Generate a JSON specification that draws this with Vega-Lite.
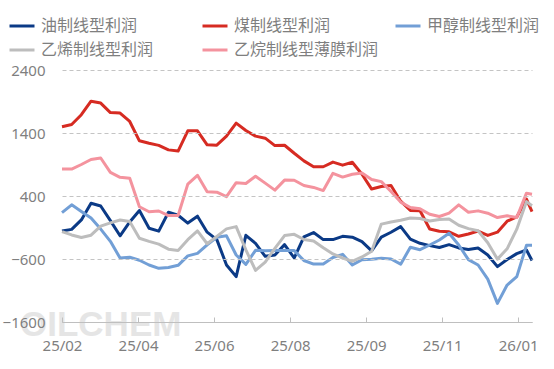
{
  "$schema": "https://vega.github.io/schema/vega-lite/v6.json",
  "width": 470,
  "height": 252,
  "autosize": {"type": "none"},
  "padding": {"left": 62, "top": 70, "right": 22, "bottom": 47},
  "background": "white",
  "config": {"view": {"stroke": null}, "font": "Noto Sans CJK SC"},
  "data": {
    "values": [
      {"d": "2025-02-20", "油制线型利润": -155, "煤制线型利润": 1500, "甲醇制线型利润": 135, "乙烯制线型利润": -165, "乙烷制线型薄膜利润": 827},
      {"d": "2025-02-27", "油制线型利润": -130, "煤制线型利润": 1535, "甲醇制线型利润": 260, "乙烯制线型利润": -218, "乙烷制线型薄膜利润": 827},
      {"d": "2025-03-06", "油制线型利润": 20, "煤制线型利润": 1690, "甲醇制线型利润": 155, "乙烯制线型利润": -258, "乙烷制线型薄膜利润": 900},
      {"d": "2025-03-13", "油制线型利润": 285, "煤制线型利润": 1905, "甲醇制线型利润": 50, "乙烯制线型利润": -222, "乙烷制线型薄膜利润": 980},
      {"d": "2025-03-20", "油制线型利润": 242, "煤制线型利润": 1875, "甲醇制线型利润": -125, "乙烯制线型利润": -78, "乙烷制线型薄膜利润": 1003},
      {"d": "2025-03-27", "油制线型利润": 10, "煤制线型利润": 1724, "甲醇制线型利润": -320, "乙烯制线型利润": -26, "乙烷制线型薄膜利润": 775},
      {"d": "2025-04-03", "油制线型利润": -232, "煤制线型利润": 1716, "甲醇制线型利润": -585, "乙烯制线型利润": 20, "乙烷制线型薄膜利润": 697},
      {"d": "2025-04-10", "油制线型利润": -12, "煤制线型利润": 1583, "甲醇制线型利润": -573, "乙烯制线型利润": -6, "乙烷制线型薄膜利润": 681},
      {"d": "2025-04-17", "油制线型利润": 170, "煤制线型利润": 1276, "甲醇制线型利润": -620, "乙烯制线型利润": -271, "乙烷制线型薄膜利润": 230},
      {"d": "2025-04-24", "油制线型利润": -112, "煤制线型利润": 1238, "甲醇制线型利润": -695, "乙烯制线型利润": -320, "乙烷制线型薄膜利润": 150},
      {"d": "2025-05-01", "油制线型利润": -158, "煤制线型利润": 1204, "甲醇制线型利润": -748, "乙烯制线型利润": -364, "乙烷制线型薄膜利润": 162},
      {"d": "2025-05-08", "油制线型利润": 142, "煤制线型利润": 1132, "甲醇制线型利润": -734, "乙烯制线型利润": -444, "乙烷制线型薄膜利润": 90},
      {"d": "2025-05-15", "油制线型利润": 95, "煤制线型利润": 1113, "甲醇制线型利润": -700, "乙烯制线型利润": -464, "乙烷制线型薄膜利润": 90},
      {"d": "2025-05-22", "油制线型利润": -30, "煤制线型利润": 1435, "甲醇制线型利润": -551, "乙烯制线型利润": -294, "乙烷制线型薄膜利润": 588},
      {"d": "2025-05-29", "油制线型利润": 80, "煤制线型利润": 1435, "甲醇制线型利润": -510, "乙烯制线型利润": -155, "乙烷制线型薄膜利润": 729},
      {"d": "2025-06-05", "油制线型利润": -174, "煤制线型利润": 1212, "甲醇制线型利润": -374, "乙烯制线型利润": -358, "乙烷制线型薄膜利润": 469},
      {"d": "2025-06-12", "油制线型利润": -292, "煤制线型利润": 1206, "甲醇制线型利润": -255, "乙烯制线型利润": -240, "乙烷制线型薄膜利润": 460},
      {"d": "2025-06-19", "油制线型利润": -695, "煤制线型利润": 1349, "甲醇制线型利润": -232, "乙烯制线型利润": -122, "乙烷制线型薄膜利润": 390},
      {"d": "2025-06-26", "油制线型利润": -880, "煤制线型利润": 1557, "甲醇制线型利润": -536, "乙烯制线型利润": -86, "乙烷制线型薄膜利润": 612},
      {"d": "2025-07-03", "油制线型利润": -224, "煤制线型利润": 1440, "甲醇制线型利润": -685, "乙烯制线型利润": -455, "乙烷制线型薄膜利润": 599},
      {"d": "2025-07-10", "油制线型利润": -352, "煤制线型利润": 1350, "甲醇制线型利润": -462, "乙烯制线型利润": -780, "乙烷制线型薄膜利润": 713},
      {"d": "2025-07-17", "油制线型利润": -558, "煤制线型利润": 1318, "甲醇制线型利润": -468, "乙烯制线型利润": -648, "乙烷制线型薄膜利润": 604},
      {"d": "2025-07-24", "油制线型利润": -536, "煤制线型利润": 1200, "甲醇制线型利润": -467, "乙烯制线型利润": -430, "乙烷制线型薄膜利润": 493},
      {"d": "2025-07-31", "油制线型利润": -372, "煤制线型利润": 1206, "甲醇制线型利润": -467, "乙烯制线型利润": -228, "乙烷制线型薄膜利润": 652},
      {"d": "2025-08-07", "油制线型利润": -584, "煤制线型利润": 1079, "甲醇制线型利润": -467, "乙烯制线型利润": -208, "乙烷制线型薄膜利润": 650},
      {"d": "2025-08-14", "油制线型利润": -250, "煤制线型利润": 958, "甲醇制线型利润": -624, "乙烯制线型利润": -290, "乙烷制线型薄膜利润": 567},
      {"d": "2025-08-21", "油制线型利润": -180, "煤制线型利润": 864, "甲醇制线型利润": -680, "乙烯制线型利润": -314, "乙烷制线型薄膜利润": 536},
      {"d": "2025-08-28", "油制线型利润": -292, "煤制线型利润": 864, "甲醇制线型利润": -680, "乙烯制线型利润": -420, "乙烷制线型薄膜利润": 486},
      {"d": "2025-09-04", "油制线型利润": -292, "煤制线型利润": 938, "甲醇制线型利润": -576, "乙烯制线型利润": -520, "乙烷制线型薄膜利润": 760},
      {"d": "2025-09-11", "油制线型利润": -240, "煤制线型利润": 890, "甲醇制线型利润": -526, "乙烯制线型利润": -584, "乙烷制线型薄膜利润": 700},
      {"d": "2025-09-18", "油制线型利润": -253, "煤制线型利润": 935, "甲醇制线型利润": -695, "乙烯制线型利润": -637, "乙烷制线型薄膜利润": 745},
      {"d": "2025-09-25", "油制线型利润": -325, "煤制线型利润": 745, "甲醇制线型利润": -610, "乙烯制线型利润": -568, "乙烷制线型薄膜利润": 765},
      {"d": "2025-10-02", "油制线型利润": -470, "煤制线型利润": 510, "甲醇制线型利润": -603, "乙烯制线型利润": -478, "乙烷制线型薄膜利润": 663},
      {"d": "2025-10-09", "油制线型利润": -252, "煤制线型利润": 550, "甲醇制线型利润": -589, "乙烯制线型利润": -46, "乙烷制线型薄膜利润": 628},
      {"d": "2025-10-16", "油制线型利润": -175, "煤制线型利润": 566, "甲醇制线型利润": -600, "乙烯制线型利润": -12, "乙烷制线型薄膜利润": 472},
      {"d": "2025-10-23", "油制线型利润": -86, "煤制线型利润": 318, "甲醇制线型利润": -682, "乙烯制线型利润": 14, "乙烷制线型薄膜利润": 303},
      {"d": "2025-10-30", "油制线型利润": -285, "煤制线型利润": 170, "甲醇制线型利润": -414, "乙烯制线型利润": 52, "乙烷制线型薄膜利润": 217},
      {"d": "2025-11-06", "油制线型利润": -351, "煤制线型利润": 165, "甲醇制线型利润": -452, "乙烯制线型利润": 43, "乙烷制线型薄膜利润": 196},
      {"d": "2025-11-13", "油制线型利润": -388, "煤制线型利润": -125, "甲醇制线型利润": -378, "乙烯制线型利润": 2, "乙烷制线型薄膜利润": 111},
      {"d": "2025-11-20", "油制线型利润": -417, "煤制线型利润": -160, "甲醇制线型利润": -298, "乙烯制线型利润": 26, "乙烷制线型薄膜利润": 74},
      {"d": "2025-11-27", "油制线型利润": -372, "煤制线型利润": -168, "甲醇制线型利润": -192, "乙烯制线型利润": 34, "乙烷制线型薄膜利润": 127},
      {"d": "2025-12-04", "油制线型利润": -424, "煤制线型利润": -240, "甲醇制线型利润": -378, "乙烯制线型利润": -64, "乙烷制线型薄膜利润": 260},
      {"d": "2025-12-11", "油制线型利润": -450, "煤制线型利润": -203, "甲醇制线型利润": -610, "乙烯制线型利润": -118, "乙烷制线型薄膜利润": 143},
      {"d": "2025-12-18", "油制线型利润": -426, "煤制线型利润": -158, "甲醇制线型利润": -695, "乙烯制线型利润": -152, "乙烷制线型薄膜利润": 164},
      {"d": "2025-12-25", "油制线型利润": -536, "煤制线型利润": -226, "甲醇制线型利润": -920, "乙烯制线型利润": -343, "乙烷制线型薄膜利润": 127},
      {"d": "2026-01-01", "油制线型利润": -721, "煤制线型利润": -174, "甲醇制线型利润": -1304, "乙烯制线型利润": -602, "乙烷制线型薄膜利润": 58},
      {"d": "2026-01-08", "油制线型利润": -608, "煤制线型利润": 0, "甲醇制线型利润": -1013, "乙烯制线型利润": -438, "乙烷制线型薄膜利润": 85},
      {"d": "2026-01-15", "油制线型利润": -515, "煤制线型利润": 68, "甲醇制线型利润": -880, "乙烯制线型利润": -126, "乙烷制线型薄膜利润": 58},
      {"d": "2026-01-22", "油制线型利润": -457, "煤制线型利润": 352, "甲醇制线型利润": -383, "乙烯制线型利润": 311, "乙烷制线型薄膜利润": 445},
      {"d": "2026-01-26", "油制线型利润": -624, "煤制线型利润": 152, "甲醇制线型利润": -383, "乙烯制线型利润": 245, "乙烷制线型薄膜利润": 429}
    ]
  },
  "layer": [
    {
      "data": {"values": [{"t": "OILCHEM"}]},
      "mark": {"type": "text", "font": "Liberation Sans", "fontWeight": "bold", "fontSize": 35, "color": "#e3e3e3", "opacity": 0.9, "align": "center", "baseline": "middle"},
      "encoding": {
        "x": {"datum": {"year": 2025, "month": 3, "date": 20, "utc": true}, "type": "temporal"},
        "y": {"datum": -1647, "type": "quantitative"},
        "text": {"field": "t"}
      }
    },
    {
      "transform": [{"fold": ["油制线型利润", "煤制线型利润", "甲醇制线型利润", "乙烯制线型利润", "乙烷制线型薄膜利润"], "as": ["s", "v"]}],
      "mark": {"type": "line", "strokeWidth": 3, "strokeJoin": "round", "clip": false},
      "encoding": {
        "x": {
          "field": "d",
          "type": "temporal",
          "scale": {
            "type": "utc",
            "nice": false,
            "domain": [{"year": 2025, "month": 2, "date": 20, "utc": true}, {"year": 2026, "month": 1, "date": 26, "utc": true}]
          },
          "axis": {
            "title": null,
            "grid": false,
            "values": [
              {"year": 2025, "month": 2, "date": 20, "utc": true},
              {"year": 2025, "month": 4, "date": 16, "utc": true},
              {"year": 2025, "month": 6, "date": 10, "utc": true},
              {"year": 2025, "month": 8, "date": 4, "utc": true},
              {"year": 2025, "month": 9, "date": 28, "utc": true},
              {"year": 2025, "month": 11, "date": 22, "utc": true},
              {"year": 2026, "month": 1, "date": 16, "utc": true}
            ],
            "labelExpr": "utcFormat(datum.value, '%y/%m')",
            "domainColor": "#bfbfbf",
            "domainWidth": 1,
            "tickColor": "#bfbfbf",
            "tickSize": -5,
            "labelPadding": 21,
            "labelFont": "Noto Sans",
            "labelFontSize": 15,
            "labelColor": "#7f7f7f",
            "labelFlush": false,
            "labelOverlap": false,
            "zindex": 1
          }
        },
        "y": {
          "field": "v",
          "type": "quantitative",
          "scale": {"domain": [-1600, 2400], "nice": false, "zero": false},
          "axis": {
            "title": null,
            "values": [-1600, -600, 400, 1400, 2400],
            "format": "d",
            "domain": false,
            "ticks": false,
            "grid": true,
            "gridDash": [4, 3],
            "gridColor": "#c4c4c4",
            "gridWidth": 1,
            "labelPadding": 17,
            "labelFont": "Noto Sans",
            "labelFontSize": 15,
            "labelColor": "#7f7f7f",
            "zindex": 1
          }
        },
        "color": {
          "field": "s",
          "type": "nominal",
          "scale": {
            "domain": ["油制线型利润", "煤制线型利润", "甲醇制线型利润", "乙烯制线型利润", "乙烷制线型薄膜利润"],
            "range": ["#0b3a86", "#d62b22", "#729fd6", "#bdbdbd", "#f4939e"]
          },
          "legend": {
            "title": null,
            "orient": "none",
            "direction": "horizontal",
            "legendX": -54,
            "legendY": -58,
            "columns": 3,
            "gridAlign": "all",
            "columnPadding": 10,
            "rowPadding": 2,
            "symbolType": "stroke",
            "symbolSize": 625,
            "symbolStrokeWidth": 3,
            "labelFont": "Noto Sans CJK SC",
            "labelFontSize": 16,
            "labelColor": "#7f7f7f",
            "labelOffset": 5,
            "labelLimit": 0,
            "padding": 0
          }
        }
      }
    }
  ]
}
